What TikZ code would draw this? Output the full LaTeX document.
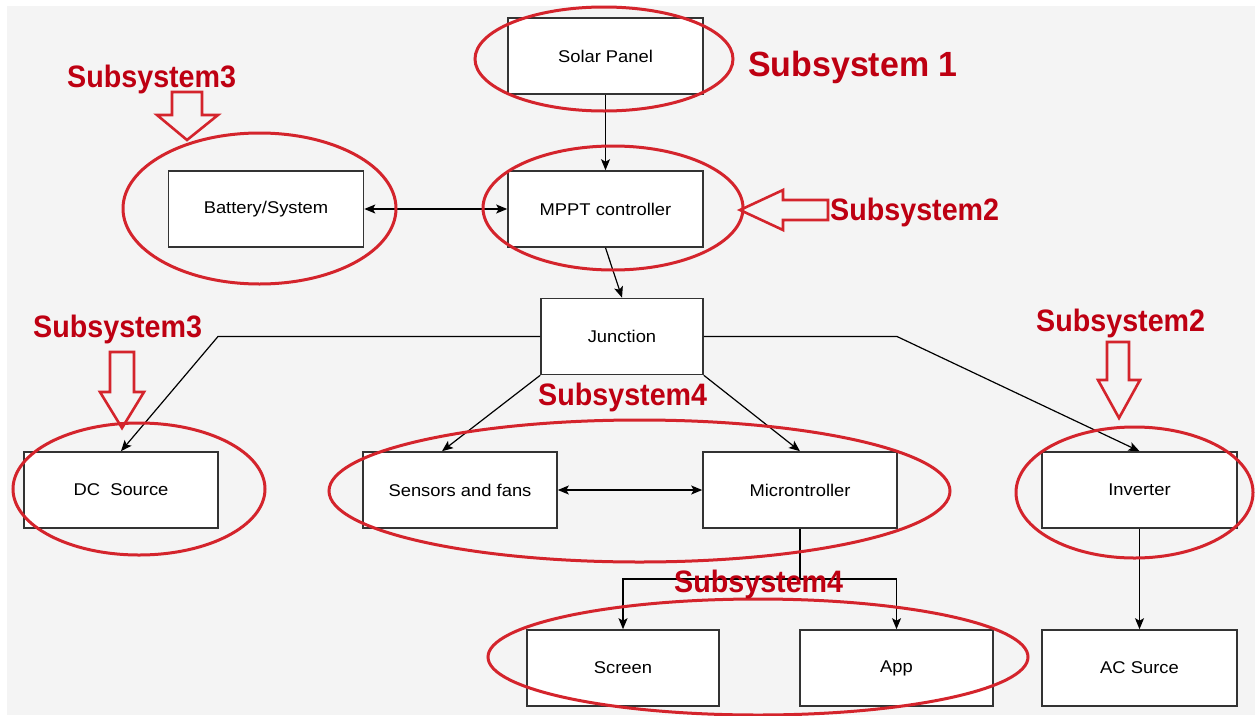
\documentclass[tikz,border=0pt]{standalone}
\usepackage{fontspec}
\setmainfont{Liberation Sans}
\newfontfamily\boxfont{Liberation Sans}[FakeStretch=1.08]
\newfontfamily\redfont{Liberation Sans}[FakeStretch=0.925]
\newfontfamily\redfontw{Liberation Sans}[FakeStretch=0.97]
\usetikzlibrary{arrows.meta,calc}
\definecolor{bg}{RGB}{244,244,244}
\definecolor{ink}{RGB}{51,51,51}
\definecolor{ellred}{RGB}{212,36,44}
\definecolor{txtred}{RGB}{190,0,18}
\tikzset{
  blk/.style={draw=ink, line width=1.6pt, fill=white, minimum width=195pt, minimum height=76pt, inner sep=0pt, font=\boxfont\fontsize{17}{20}\selectfont},
  tip/.tip={Stealth[length=11pt,width=9pt,inset=2.5pt]},
  conn/.style={draw=black, line width=1.2pt, -tip},
  conn2/.style={draw=black, line width=1.2pt, tip-tip},
  plain/.style={draw=black, line width=1.2pt},
  ring/.style={draw=ellred, line width=3pt},
  hollow/.style={draw=ellred, line width=2.6pt, line join=miter},
  sublabel/.style={text=txtred, inner sep=0pt, anchor=base west, font=\redfont\bfseries\fontsize{31}{31}\selectfont},
}
\begin{document}
\begin{tikzpicture}[x=1pt,y=-1pt]
\useasboundingbox (0,0) rectangle (1255,715);
\fill[white] (0,0) rectangle (1255,715);
\fill[bg] (7,6) rectangle (1255,715);

% boxes
\node[blk] (solar) at (605.5,56) {Solar Panel};
\node[blk] (mppt) at (605.5,209) {MPPT controller};
\node[blk] (batt) at (266,209) {Battery/System};
\node[blk, minimum width=162pt] (junc) at (622,336.5) {Junction};
\node[blk, minimum width=194pt] (dc) at (121,490) {DC~~Source};
\node[blk, minimum width=194pt] (sens) at (460,490) {Sensors and fans};
\node[blk, minimum width=194pt] (micro) at (800,490) {Microntroller};
\node[blk] (inv) at (1139.5,490) {Inverter};
\node[blk, minimum width=192pt] (screen) at (623,668) {Screen};
\node[blk, minimum width=193pt] (app) at (896.5,668) {App};
\node[blk] (ac) at (1139.5,668) {AC Surce};

% connectors
\draw[conn] (solar) -- (mppt);
\draw[conn2] (batt) -- (mppt);
\draw[conn] (mppt.south) -- (junc.north);
\coordinate (kl) at (218,336.5);
\coordinate (kr) at (897,336.5);
\draw[conn] (junc.west) -- (kl) -- (dc.north);
\draw[conn] (junc.east) -- (kr) -- (inv.north);
\draw[conn] (junc.south west) -- ($(sens.north)+(-18,0)$);
\draw[conn] (junc.south east) -- (micro.north);
\draw[conn2] (sens) -- (micro);
\coordinate (bar) at (800,579);
\draw[plain] (micro.south) -- (bar);
\draw[conn] (bar) -| (screen.north);
\draw[conn] (bar) -| (app.north);
\draw[conn] (inv) -- (ac);

% red ellipses
\draw[ring] (604,59) ellipse [x radius=129, y radius=52];
\draw[ring] (613,208) ellipse [x radius=130, y radius=62];
\draw[ring] (259.5,208.5) ellipse [x radius=136.5, y radius=75.5];
\draw[ring] (139,489) ellipse [x radius=126, y radius=66];
\draw[ring] (639.5,491) ellipse [x radius=310.5, y radius=71];
\draw[ring] (1134.5,492.5) ellipse [x radius=118.5, y radius=65.5];
\draw[ring] (758,657) ellipse [x radius=270, y radius=58];

% red hollow arrows
\draw[hollow] (172,92) -- (202,92) -- (202,115) -- (218,115) -- (187,140) -- (157,115) -- (172,115) -- cycle;
\draw[hollow] (740,210) -- (783,190) -- (783,200) -- (828,200) -- (828,220) -- (783,220) -- (783,230) -- cycle;
\draw[hollow] (110,352) -- (134,352) -- (134,392) -- (144,392) -- (122,428) -- (100,392) -- (110,392) -- cycle;
\draw[hollow] (1107,342) -- (1129,342) -- (1129,380) -- (1140,380) -- (1119,418) -- (1098,380) -- (1107,380) -- cycle;

% red labels
\node[sublabel] (l3a) at (67,87) {Subsystem3};
\node[sublabel, font=\redfontw\bfseries\fontsize{35}{35}\selectfont] (l1) at (748,76) {Subsystem 1};
\node[sublabel] (l2a) at (830,220) {Subsystem2};
\node[sublabel] (l3b) at (33,337) {Subsystem3};
\node[sublabel] (l2b) at (1036,331) {Subsystem2};
\node[sublabel] (l4a) at (538,405) {Subsystem4};
\node[sublabel] (l4b) at (674,592) {Subsystem4};
\end{tikzpicture}
\end{document}
